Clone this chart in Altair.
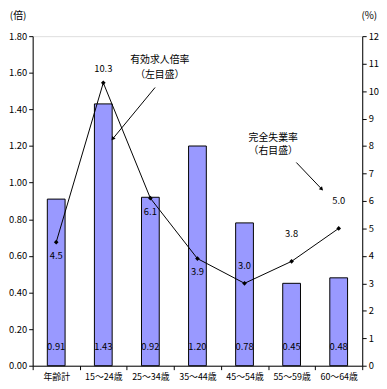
import altair as alt
import pandas as pd

cats = ["年齢計", "15～24歳", "25～34歳", "35～44歳", "45～54歳", "55～59歳", "60～64歳"]
ratio = [0.91, 1.43, 0.92, 1.20, 0.78, 0.45, 0.48]
unemp = [4.5, 10.3, 6.1, 3.9, 3.0, 3.8, 5.0]
left_ticks = [0.0, 0.2, 0.4, 0.6, 0.8, 1.0, 1.2, 1.4, 1.6, 1.8]
right_ticks = list(range(13))

FONT = "Noto Sans CJK JP"
W, H = 334, 334

df = pd.DataFrame({"cat": cats, "ratio": ratio, "unemp": unemp})

xscale = alt.Scale(domain=cats, paddingInner=0, paddingOuter=0)
xaxis = alt.Axis(title=None, tickBand="extent", labelAngle=0, domainColor="black",
                 tickColor="black", labelColor="black", labelFont=FONT, labelFontSize=9,
                 tickSize=4, labelPadding=3, labelOverlap=False)

# bars (left scale)
lscale = alt.Scale(domain=[0, 1.8], nice=False, zero=True)
laxis = alt.Axis(values=left_ticks, format=".2f", grid=False, title=None, tickSize=4,
                 labelPadding=2, domainColor="black", tickColor="black", labelColor="black",
                 labelFont=FONT, labelFontSize=9.5, labelOverlap=False, tickCount=10)
bx = alt.X("cat:N", sort=cats, scale=xscale, axis=xaxis)
bars = alt.Chart(df).mark_bar(color="#9999FF", stroke="black", strokeWidth=1, size=18).encode(
    x=bx, y=alt.Y("ratio:Q", scale=lscale, axis=laxis))
bar_text = alt.Chart(df).transform_calculate(base="0").mark_text(
    font=FONT, fontSize=9.5, color="black", dy=-19).encode(
    x=bx, y=alt.Y("base:Q", scale=lscale, axis=laxis), text=alt.Text("ratio:Q", format=".2f"))
bar_layer = alt.layer(bars, bar_text)

# line (right scale)
lx = alt.X("cat:N", sort=cats, scale=xscale, axis=None)
yr = alt.Y("unemp:Q", scale=alt.Scale(domain=[0, 12], nice=False),
           axis=alt.Axis(orient="right", values=right_ticks, grid=False, title=None,
                         tickSize=4, labelPadding=2, domainColor="black", tickColor="black",
                         labelColor="black", labelFont=FONT, labelFontSize=9.5, labelOverlap=False))
lbase = alt.Chart(df).encode(x=lx, y=yr)
line = lbase.mark_line(color="black", strokeWidth=1)
pts = lbase.mark_point(shape="diamond", filled=True, color="black", size=22, opacity=1)


def lbl(names, dy):
    return lbase.mark_text(font=FONT, fontSize=9.5, color="black", dy=dy).encode(
        text=alt.Text("unemp:Q", format=".1f")).transform_filter(
        alt.FieldOneOfPredicate(field="cat", oneOf=names))


line_layer = alt.layer(line, pts,
                       lbl([cats[0], cats[2], cats[3]], 14),
                       lbl([cats[1]], -14),
                       lbl([cats[4]], -18),
                       lbl([cats[5], cats[6]], -28))

# annotations (in category-index units / right-scale units)
ann_text = pd.DataFrame({
    "t": ["有効求人倍率", "（左目盛）", "完全失業率", "（右目盛）", "(倍)", "(%)"],
    "x": [2.70, 2.70, 5.11, 5.11, -0.31, 7.15],
    "y": [11.14, 10.59, 8.30, 7.80, 12.72, 12.72],
})
arrows = pd.DataFrame({"x": [2.60, 5.60], "y": [10.13, 7.40], "x2": [1.70, 6.14], "y2": [8.26, 6.43],
                       "ang": [219, 136]})
qx = alt.Scale(domain=[0, 7])
qy = alt.Scale(domain=[0, 12])
a_rule = alt.Chart(arrows).mark_rule(color="black", strokeWidth=1).encode(
    x=alt.X("x:Q", scale=qx, axis=None), x2="x2", y=alt.Y("y:Q", scale=qy, axis=None), y2="y2")
a_head = alt.Chart(arrows).mark_point(shape="triangle-up", filled=True, color="black", size=20, opacity=1).encode(
    x=alt.X("x2:Q", scale=qx, axis=None), y=alt.Y("y2:Q", scale=qy, axis=None),
    angle=alt.Angle("ang:Q", scale=None))
a_txt = alt.Chart(ann_text).mark_text(font=FONT, fontSize=10, color="black").encode(
    x=alt.X("x:Q", scale=qx, axis=None), y=alt.Y("y:Q", scale=qy, axis=None), text="t:N")
ann_layer = alt.layer(a_rule, a_head, a_txt)

chart = alt.layer(bar_layer, line_layer, ann_layer).resolve_scale(
    y="independent", x="independent").properties(width=W, height=H).configure_view(
    stroke=None).configure(padding=0, background="white")

chart.save("out.html", embed_options={"renderer": "svg", "actions": False})
